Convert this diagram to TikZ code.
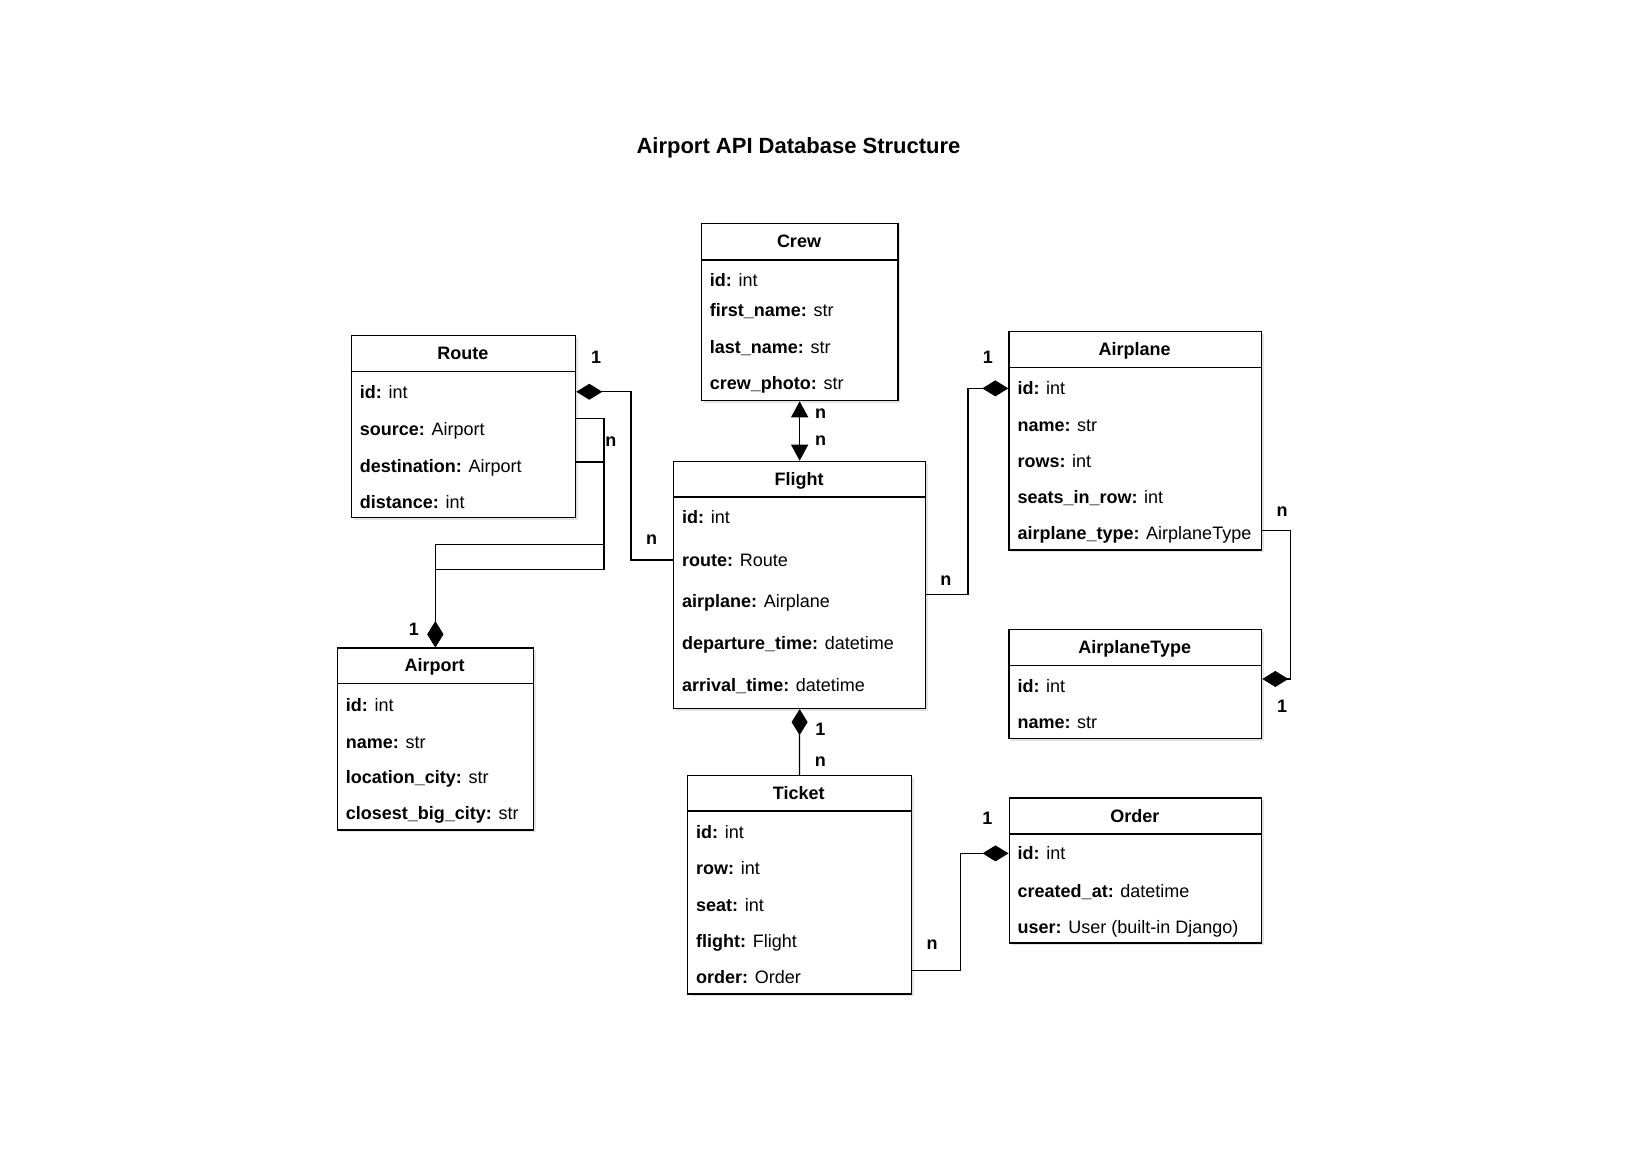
\documentclass[tikz,border=0pt]{standalone}
\usepackage{fontspec}
\setmainfont{Liberation Sans}
\usetikzlibrary{arrows.meta,shadows,calc}
\tikzset{
  tbl/.style={draw, line width=1.3pt, fill=white, inner sep=0pt, anchor=north west,
    drop shadow={shadow xshift=2.5pt, shadow yshift=-2.5pt, opacity=0.22}},
  hd/.style={font=\fontsize{18}{21}\selectfont\bfseries, anchor=base, inner sep=0pt},
  row/.style={font=\fontsize{18}{21}\selectfont, anchor=base west, inner sep=0pt},
  lbl/.style={font=\fontsize{18}{21}\selectfont\bfseries, inner sep=0pt},
  conn/.style={line width=1.3pt},
  comp/.style={conn, -{Diamond[length=26pt,width=16pt]}},
  tri/.style={conn, {Triangle[length=16pt,width=17pt]}-{Triangle[length=16pt,width=17pt]}},
}
\newcommand\umlbox[7]{% name, left, top, right, header bottom, bottom, title
  \node[tbl, minimum width={#4-#2}, minimum height={#6-#3}] (#1) at (#2,#3) {};
  \draw[line width=1.3pt] (#2,#5) -- (#4,#5);
  \node[hd] (#1T) at ({(#2+#4)/2},{(#3+#5)/2+6.5}) {#7};
}
\begin{document}
\begin{tikzpicture}[x=1pt,y=-1pt]
\path[fill=white] (0,0) rectangle (1637,1158);
\useasboundingbox (0,0) rectangle (1637,1158);

\node[font=\fontsize{22}{26}\selectfont\bfseries, anchor=base, inner sep=0pt] (title) at (798.5,154) {Airport API Database Structure};

% Crew
\umlbox{crew}{700.7}{222.7}{897.3}{260}{400}{Crew}
\node[row] (crewR1) at (709.7,286.5) {\textbf{id:} int};
\node[row] (crewR2) at (709.7,316.5) {\textbf{first\_name:} str};
\node[row] (crewR3) at (709.7,353.8) {\textbf{last\_name:} str};
\node[row] (crewR4) at (709.7,389.8) {\textbf{crew\_photo:} str};

% Route
\umlbox{route}{350.7}{335}{575}{371.7}{516.7}{Route}
\node[row] (routeR1) at (359.7,398.2) {\textbf{id:} int};
\node[row] (routeR2) at (359.7,435.5) {\textbf{source:} Airport};
\node[row] (routeR3) at (359.7,472.2) {\textbf{destination:} Airport};
\node[row] (routeR4) at (359.7,508.8) {\textbf{distance:} int};

% Airplane
\umlbox{airplane}{1008.3}{331}{1261}{367.3}{549.3}{Airplane}
\node[row] (airplaneR1) at (1017.3,394.8) {\textbf{id:} int};
\node[row] (airplaneR2) at (1017.3,431.5) {\textbf{name:} str};
\node[row] (airplaneR3) at (1017.3,467.2) {\textbf{rows:} int};
\node[row] (airplaneR4) at (1017.3,503.2) {\textbf{seats\_in\_row:} int};
\node[row] (airplaneR5) at (1017.3,539.8) {\textbf{airplane\_type:} AirplaneType};

% Flight
\umlbox{flight}{673}{460.7}{925}{497}{707.8}{Flight}
\node[row] (flightR1) at (682,523.3) {\textbf{id:} int};
\node[row] (flightR2) at (682,566.1) {\textbf{route:} Route};
\node[row] (flightR3) at (682,607.8) {\textbf{airplane:} Airplane};
\node[row] (flightR4) at (682,649.6) {\textbf{departure\_time:} datetime};
\node[row] (flightR5) at (682,691.4) {\textbf{arrival\_time:} datetime};

% AirplaneType
\umlbox{airplanetype}{1008.3}{629}{1261}{665.7}{737.5}{AirplaneType}
\node[row] (airplanetypeR1) at (1017.3,692.2) {\textbf{id:} int};
\node[row] (airplanetypeR2) at (1017.3,728.8) {\textbf{name:} str};

% Airport
\umlbox{airport}{336.7}{647.3}{532.7}{683.3}{829.3}{Airport}
\node[row] (airportR1) at (345.7,711.5) {\textbf{id:} int};
\node[row] (airportR2) at (345.7,748.2) {\textbf{name:} str};
\node[row] (airportR3) at (345.7,783.2) {\textbf{location\_city:} str};
\node[row] (airportR4) at (345.7,819.8) {\textbf{closest\_big\_city:} str};

% Ticket
\umlbox{ticket}{687}{775}{910.5}{811}{993.3}{Ticket}
\node[row] (ticketR1) at (696,838.2) {\textbf{id:} int};
\node[row] (ticketR2) at (696,874.8) {\textbf{row:} int};
\node[row] (ticketR3) at (696,911.5) {\textbf{seat:} int};
\node[row] (ticketR4) at (696,947.2) {\textbf{flight:} Flight};
\node[row] (ticketR5) at (696,983.8) {\textbf{order:} Order};

% Order
\umlbox{order}{1008.5}{797.3}{1261}{834}{942.3}{Order}
\node[row] (orderR1) at (1017.5,859.8) {\textbf{id:} int};
\node[row] (orderR2) at (1017.5,897.2) {\textbf{created\_at:} datetime};
\node[row] (orderR3) at (1017.5,933.2) {\textbf{user:} User (built-in Django)};

% Connectors
\draw[comp] (flight.west |- flightR2) -- ++(-42,0) |- (route.east |- routeR1);
\draw[comp] ($(route.east |- routeR2.north)+(0,-3.5)$) -- ++(27.7,0) -- ++(0,151) -| (airport.north);
\draw[comp] ($(route.east |- routeR3.north)+(0,3)$) -- ++(27.7,0) -- ++(0,82.8) -| (airport.north);
\draw[tri] (crew.south) -- (flight.north);
\draw[comp] (ticket.north) -- (flight.south);
\draw[comp] (flight.east |- flightR3.north) -- ++(41.7,0) |- (airplane.west |- airplaneR1);
\draw[comp] ($(airplane.east |- airplaneR5.north)+(0,4)$) -- ++(28,0) |- (airplanetype.east |- airplanetypeR1.north);
\draw[comp] (ticket.east |- ticketR5.north) -- ++(48.9,0) |- (order.west |- orderR1);

% Multiplicities
\node[lbl] (m1) at (596,357) {1};
\node[lbl] (m2) at (651.6,539.5) {n};
\node[lbl] (m3) at (610.8,441.6) {n};
\node[lbl] (m4) at (413.8,629) {1};
\node[lbl] (m5) at (820.6,414) {n};
\node[lbl] (m6) at (820.6,440.7) {n};
\node[lbl] (m7) at (820.3,729) {1};
\node[lbl] (m8) at (820.3,761.5) {n};
\node[lbl] (m9) at (987.8,357) {1};
\node[lbl] (m10) at (945.8,581) {n};
\node[lbl] (m11) at (1282,511.6) {n};
\node[lbl] (m12) at (1282,706.8) {1};
\node[lbl] (m13) at (987.4,818.4) {1};
\node[lbl] (m14) at (932.2,944.9) {n};
\end{tikzpicture}
\end{document}
